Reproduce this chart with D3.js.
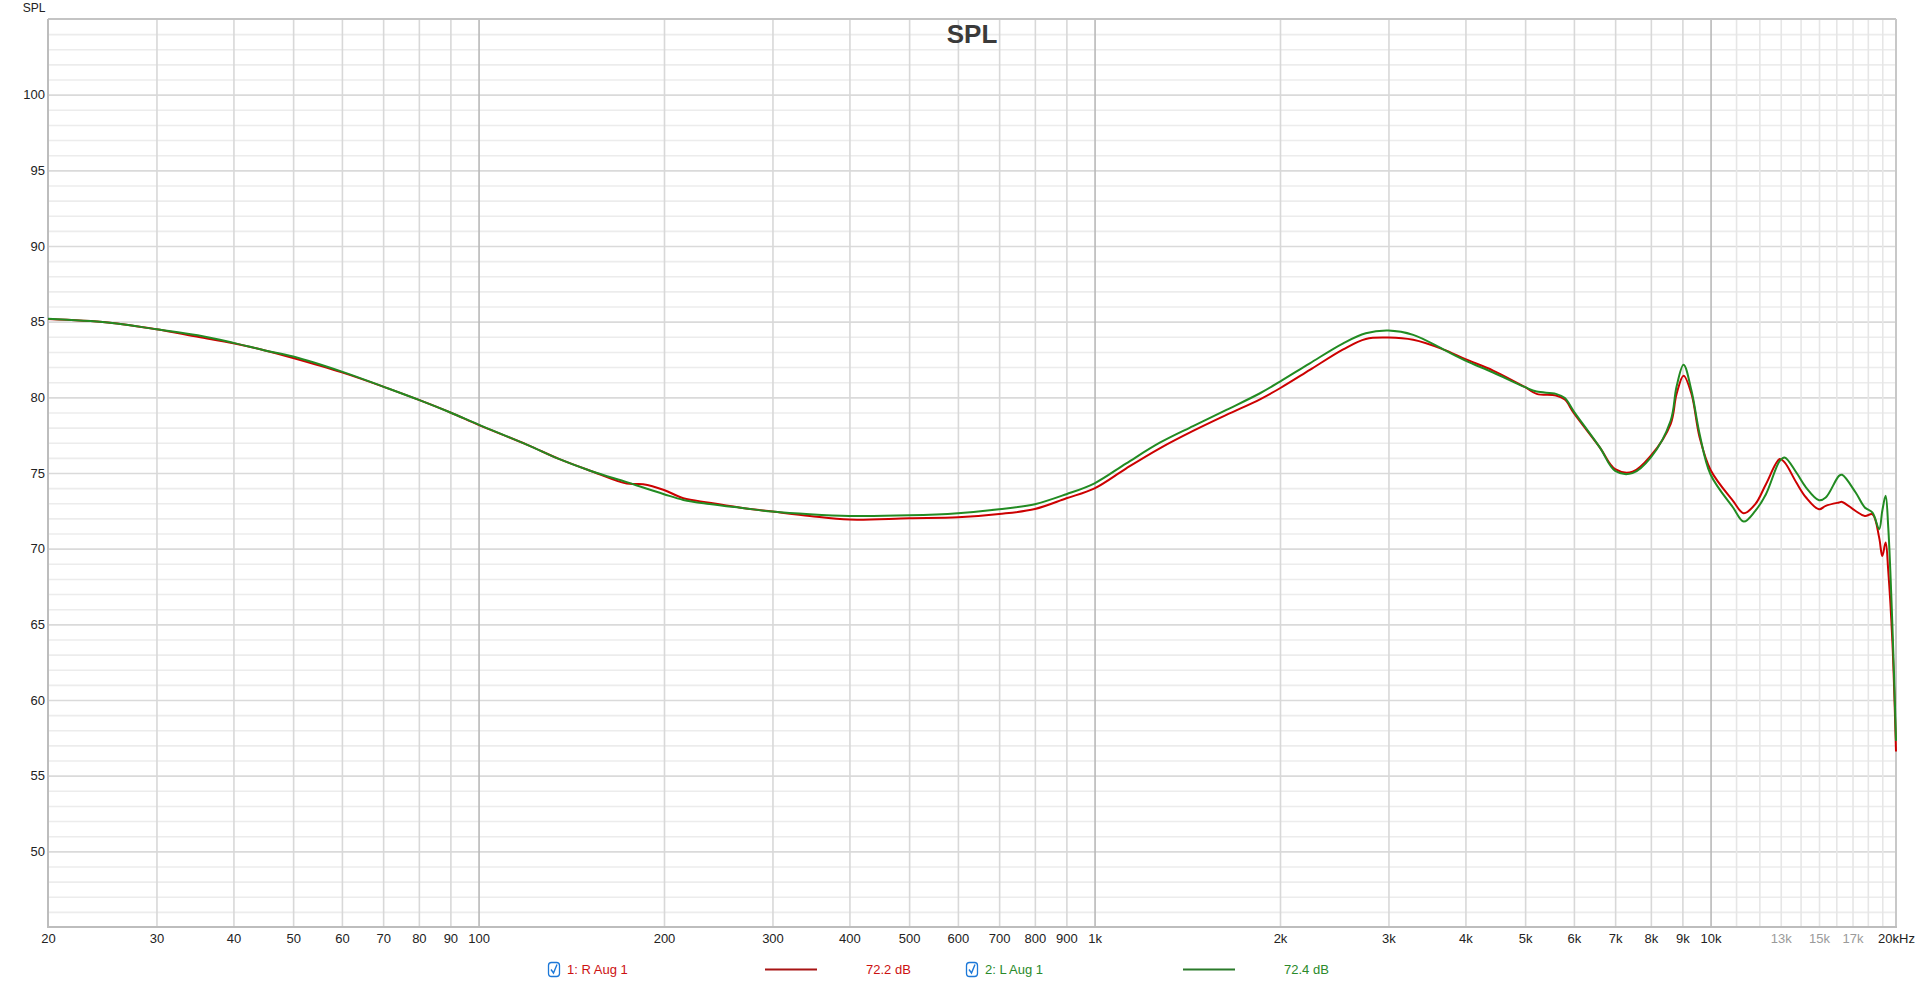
<!DOCTYPE html>
<html>
<head>
<meta charset="utf-8">
<script src="https://cdn.jsdelivr.net/npm/d3@7"></script>
<style>
  body { margin: 0; background: #fff; }
  svg { display: block; font-family: "Liberation Sans", Arial, Helvetica, sans-serif; }
</style>
</head>
<body>
<svg id="chart" width="1920" height="984"></svg>
<script>
// frequency points (Hz) and SPL readings (dB) for each channel
var freqs = [20, 25, 30, 35, 40, 45, 50, 60, 70, 80, 90, 100, 120, 135, 153, 174, 185, 200, 215, 237, 270, 300,
    345, 400, 500, 600, 700, 800, 900, 1000, 1126, 1276, 1445, 1637, 1856, 2000, 2236, 2533, 2756, 3000, 3291,
    3681, 4000, 4436, 5000, 5220, 5610, 5800, 6000, 6609, 7000, 7470, 8000, 8613, 8805, 9040, 9312, 9600, 10000,
    10875, 11320, 11820, 12300, 12950, 13190, 13780, 14290, 15000, 15380, 16160, 16350, 17200, 17800, 18320,
    18780, 19000, 19240, 19430, 19730, 20000];

var rightDb = [85.18, 84.95, 84.5, 84.0, 83.58, 83.1, 82.6, 81.65, 80.71, 79.83, 79.0, 78.18, 76.86, 75.93, 75.1,
    74.3, 74.26, 73.88, 73.33, 73.04, 72.67, 72.45, 72.16, 71.92, 72.01, 72.07, 72.29, 72.62, 73.33, 73.99, 75.31,
    76.63, 77.78, 78.84, 79.87, 80.6, 81.81, 83.17, 83.86, 83.95, 83.8, 83.17, 82.52, 81.77, 80.67, 80.23, 80.12,
    79.85, 78.95, 76.69, 75.25, 75.08, 76.14, 78.23, 80.2, 81.43, 80.22, 77.35, 75.2, 73.16, 72.34, 72.94, 74.26,
    75.92, 75.7, 74.37, 73.38, 72.6, 72.83, 73.05, 73.09, 72.49, 72.16, 72.27, 70.73, 69.51, 70.4, 68.52, 63.88, 56.6];

var leftDb = [85.2, 84.95, 84.5, 84.1, 83.6, 83.1, 82.7, 81.7, 80.71, 79.83, 79.0, 78.2, 76.86, 75.93, 75.1,
    74.4, 74.04, 73.6, 73.22, 72.95, 72.67, 72.45, 72.27, 72.16, 72.2, 72.34, 72.6, 72.94, 73.6, 74.32, 75.64,
    77.0, 78.1, 79.17, 80.27, 81.04, 82.25, 83.57, 84.23, 84.41, 84.13, 83.17, 82.43, 81.64, 80.67, 80.38, 80.23,
    79.95, 79.06, 76.69, 75.14, 74.99, 76.03, 78.45, 80.7, 82.16, 80.44, 77.57, 74.9, 72.72, 71.79, 72.5, 73.6,
    75.8, 76.03, 75.03, 74.04, 73.2, 73.38, 74.81, 74.88, 73.71, 72.72, 72.38, 71.28, 72.5, 73.49, 71.39, 64.99, 57.3];

var seriesNames = ["1: R Aug 1", "2: L Aug 1"];
var seriesAvg = ["72.2 dB", "72.4 dB"];

var xLabelTicks = [20, 30, 40, 50, 60, 70, 80, 90, 100, 200, 300, 400, 500, 600, 700, 800, 900,
    1000, 2000, 3000, 4000, 5000, 6000, 7000, 8000, 9000, 10000, 13000, 15000, 17000, 20000];
var xLabelText = ["20", "30", "40", "50", "60", "70", "80", "90", "100", "200", "300", "400", "500", "600",
    "700", "800", "900", "1k", "2k", "3k", "4k", "5k", "6k", "7k", "8k", "9k", "10k", "13k", "15k", "17k", "20kHz"];
var greyLabels = [13000, 15000, 17000];
var yLabelTicks = [50, 55, 60, 65, 70, 75, 80, 85, 90, 95, 100];

var svg = d3.select("#chart");
var plotL = 48, plotT = 19, plotR = 1896, plotB = 927;

var x = d3.scaleLog().domain([20, 20000]).range([plotL, plotR]);
var y = d3.scaleLinear().domain([45, 105]).range([plotB, plotT]);

// grid lines
var xMinor = [], xFine = [], xDecade = [100, 1000, 10000];
[10, 100, 1000].forEach(function (dec) {
    for (var k = 2; k <= 9; k++) {
        if (dec * k >= 30) xMinor.push(dec * k);
    }
});
for (var k = 11; k <= 19; k++) xFine.push(k * 1000);
var yMinor = d3.range(46, 105).filter(function (v) { return v % 5 !== 0; });
var yMajor = d3.range(50, 105, 5);

var grid = svg.append("g");

function hGrid(vals, color) {
    grid.append("g")
        .attr("transform", "translate(" + plotL + ",0)")
        .call(d3.axisLeft(y).tickValues(vals).tickSize(-(plotR - plotL)).tickFormat(""))
        .call(function (g) { g.select(".domain").remove(); })
        .selectAll("line").attr("stroke", color).attr("stroke-width", 1.6);
}
function vGrid(vals, color) {
    grid.append("g")
        .attr("transform", "translate(0," + plotB + ")")
        .call(d3.axisBottom(x).tickValues(vals).tickSize(-(plotB - plotT)).tickFormat(""))
        .call(function (g) { g.select(".domain").remove(); })
        .selectAll("line").attr("stroke", color).attr("stroke-width", 1.6);
}
hGrid(yMinor, "#ececec");
hGrid(yMajor, "#dadada");
vGrid(xFine, "#e6e6e6");
vGrid(xMinor, "#d8d8d8");
vGrid(xDecade, "#b9b9b9");

// frame
svg.append("line").attr("x1", plotL).attr("x2", plotR).attr("y1", plotT).attr("y2", plotT)
    .attr("stroke", "#c4c4c4").attr("stroke-width", 2);
svg.append("line").attr("x1", plotR).attr("x2", plotR).attr("y1", plotT).attr("y2", plotB)
    .attr("stroke", "#c8c8c8").attr("stroke-width", 2);
svg.append("line").attr("x1", plotL).attr("x2", plotL).attr("y1", plotT).attr("y2", plotB + 1)
    .attr("stroke", "#bdbdbd").attr("stroke-width", 2);
svg.append("line").attr("x1", plotL).attr("x2", plotR + 1).attr("y1", plotB).attr("y2", plotB)
    .attr("stroke", "#bdbdbd").attr("stroke-width", 2);

// axes labels
var xAxis = svg.append("g")
    .attr("transform", "translate(0," + plotB + ")")
    .call(d3.axisBottom(x).tickValues(xLabelTicks).tickSize(0).tickPadding(7)
        .tickFormat(function (d, i) { return xLabelText[i]; }));
xAxis.select(".domain").remove();
xAxis.selectAll("text")
    .attr("font-size", 13)
    .attr("font-family", "Liberation Sans, Arial, sans-serif")
    .attr("fill", function (d) { return greyLabels.indexOf(d) >= 0 ? "#9a9a9a" : "#222"; });

var yAxis = svg.append("g")
    .attr("transform", "translate(" + (plotL - 1) + ",0)")
    .call(d3.axisLeft(y).tickValues(yLabelTicks).tickSize(0).tickPadding(2));
yAxis.select(".domain").remove();
yAxis.selectAll("text")
    .attr("font-size", 13)
    .attr("font-family", "Liberation Sans, Arial, sans-serif")
    .attr("fill", "#222");

svg.append("text")
    .attr("x", 34).attr("y", 12)
    .attr("text-anchor", "middle")
    .attr("font-size", 12)
    .attr("fill", "#222")
    .text("SPL");

svg.append("text")
    .attr("x", 972).attr("y", 43)
    .attr("text-anchor", "middle")
    .attr("font-size", 26)
    .attr("font-weight", "bold")
    .attr("fill", "#3a3a3a")
    .text("SPL");

// curves
var line = d3.line()
    .x(function (d) { return x(d[0]); })
    .y(function (d) { return y(d[1]); })
    .curve(d3.curveCatmullRom.alpha(0.5));

var plot = svg.append("g");
var lineColors = ["#cc0000", "#228b22"];
[rightDb, leftDb].forEach(function (vals, i) {
    plot.append("path")
        .attr("d", line(freqs.map(function (f, j) { return [f, vals[j]]; })))
        .attr("fill", "none")
        .attr("stroke", lineColors[i])
        .attr("stroke-width", 2)
        .attr("stroke-linejoin", "round");
});

// legend
var legendText = ["#cc1111", "#2a8a2a"];
var legendLine = ["#a81414", "#2b7a2b"];
seriesNames.forEach(function (name, i) {
    var g = svg.append("g").attr("transform", "translate(" + (548 + i * 418) + ",0)");
    g.append("rect")
        .attr("x", 0.5).attr("y", 962.5).attr("width", 11).attr("height", 14).attr("rx", 3)
        .attr("fill", "#fff").attr("stroke", "#1c78d8").attr("stroke-width", 1.3);
    g.append("path")
        .attr("d", "M3,969.5 L5.5,973 L9,964.5")
        .attr("fill", "none").attr("stroke", "#1c78d8").attr("stroke-width", 1.4);
    g.append("text")
        .attr("x", 19).attr("y", 974)
        .attr("font-size", 13)
        .attr("fill", legendText[i])
        .text(name);
    g.append("line")
        .attr("x1", 217).attr("x2", 269).attr("y1", 969.5).attr("y2", 969.5)
        .attr("stroke", legendLine[i]).attr("stroke-width", 2.2);
    g.append("text")
        .attr("x", 318).attr("y", 974)
        .attr("font-size", 13)
        .attr("fill", legendText[i])
        .text(seriesAvg[i]);
});
</script>
</body>
</html>
